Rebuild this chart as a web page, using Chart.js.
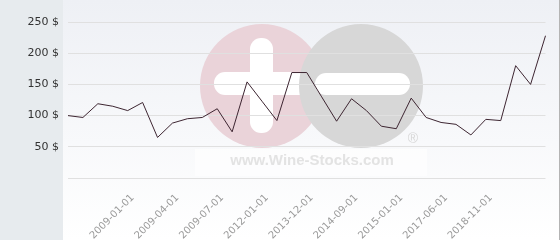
<!DOCTYPE html>
<html>
<head>
<meta charset="utf-8">
<script src="https://cdn.jsdelivr.net/npm/chart.js@4/dist/chart.umd.min.js"></script>
<style>
	html, body { margin: 0; padding: 0; background: #ffffff; }
	#wrap { width: 560px; height: 240px; position: relative; }
</style>
</head>
<body>
<div id="wrap"><canvas id="priceChart"></canvas></div>
<script>
const DATES = [
	'2008-09-01', '2008-10-01', '2008-11-01', '2008-12-01', '2009-01-01', '2009-02-01',
	'2009-03-01', '2009-04-01', '2009-05-01', '2009-06-01', '2009-07-01', '2010-06-01',
	'2011-03-01', '2012-01-01', '2012-09-01', '2013-05-01', '2013-12-01', '2014-03-01',
	'2014-06-01', '2014-09-01', '2014-11-01', '2014-12-01', '2015-01-01', '2016-01-01',
	'2016-10-01', '2017-06-01', '2017-12-01', '2018-05-01', '2018-11-01', '2019-06-01',
	'2020-03-01', '2021-01-01', '2021-10-01'
];
const PRICES = [
	100, 97, 119, 115, 108, 121, 65, 88, 95, 97, 111, 74,
	154, 123, 92, 169, 169, 130, 91, 127, 108, 83, 79, 128,
	97, 89, 86, 69, 94, 92, 180, 150, 228
];
// only these dates get a label on the x axis
const SHOWN_DATES = [
	'2009-01-01', '2009-04-01', '2009-07-01', '2012-01-01', '2013-12-01',
	'2014-09-01', '2015-01-01', '2017-06-01', '2018-11-01'
];
const Y_TICKS = [0, 50, 100, 150, 200, 250];


const backgroundPlugin = {
	id: 'panelAndWatermark',
	beforeDraw: (chart) => {
		const { ctx, width, height } = chart;
		ctx.save();
		// left label panel
		ctx.fillStyle = '#e7ebee';
		ctx.fillRect(0, 0, 63, height);
		// plot background
		let grad = ctx.createLinearGradient(0, 0, 0, height);
		grad.addColorStop(0, '#eef0f5');
		grad.addColorStop(1, '#ffffff');
		ctx.fillStyle = grad;
		ctx.fillRect(63, 0, 496, height);
		ctx.fillStyle = '#b4b4b4';
		ctx.fillRect(559, 0, 1, height);

		// watermark logo
		ctx.fillStyle = '#ead3d9';
		ctx.beginPath();
		ctx.arc(262, 86, 62, 0, Math.PI * 2);
		ctx.fill();
		ctx.fillStyle = '#ffffff';
		roundRect(ctx, 250, 38, 23, 95, 11);
		roundRect(ctx, 214, 72, 100, 23, 11);
		ctx.fillStyle = '#d7d7d7';
		ctx.beginPath();
		ctx.arc(361, 86, 62, 0, Math.PI * 2);
		ctx.fill();
		ctx.fillStyle = '#ffffff';
		roundRect(ctx, 315, 73, 95, 22, 11);

		ctx.fillStyle = 'rgba(255,255,255,0.6)';
		ctx.fillRect(195, 149, 232, 27);
		ctx.fillStyle = '#e3e3e3';
		ctx.font = 'bold 15px "Liberation Sans", Arial, sans-serif';
		ctx.textAlign = 'center';
		ctx.textBaseline = 'middle';
		ctx.fillText('www.Wine-Stocks.com', 312, 161);
		ctx.font = '14px "Liberation Sans", Arial, sans-serif';
		ctx.fillStyle = '#d7d7d7';
		ctx.fillText('\u00ae', 413, 139);
		ctx.restore();
	},
};

function roundRect(ctx, x, y, w, h, r) {
	ctx.beginPath();
	ctx.roundRect(x, y, w, h, r);
	ctx.fill();
}


let chartOptions = {
	responsive: false,
	animation: false,
	layout: {
		padding: { top: 22, right: 5, left: 0, bottom: 0 },
	},
	scales: {
		x: {
			grid: { display: false },
			border: { display: false },
			ticks: {
				autoSkip: false,
				minRotation: 45,
				maxRotation: 45,
				padding: 6,
				labelOffset: 5,
				color: '#9a9a9a',
				font: { family: 'DejaVu Sans', size: 10 },
				callback: function(value, index) {
					let d = this.getLabelForValue(value);
					return SHOWN_DATES.includes(d) ? d : '';
				},
			},
			afterFit: (scale) => { scale.height = 62; },
		},
		y: {
			min: 0,
			max: 250,
			grid: {
				color: '#e0e0e0',
				drawTicks: false,
			},
			border: { display: false },
			afterBuildTicks: (scale) => {
				scale.ticks = Y_TICKS.map(v => ({ value: v }));
			},
			ticks: {
				padding: 9,
				color: '#333333',
				font: { family: 'DejaVu Sans', size: 11 },
				callback: (value) => value === 0 ? '' : value + ' $',
			},
			afterFit: (scale) => { scale.width = 68; },
		},
	},
	plugins: {
		legend: { display: false },
		tooltip: { enabled: false },
	},
	elements: {
		point: { radius: 0 },
		line: { tension: 0 },
	},
};

const canvas = document.getElementById('priceChart');
canvas.width = 560;
canvas.height = 240;
let priceChart = new Chart(canvas, {
	type: 'line',
	data: {
		labels: DATES,
		datasets: [
			{
				label: 'Price',
				data: PRICES,
				borderWidth: 1,
				borderColor: '#3d2531',
				fill: false,
			},
		],
	},
	options: chartOptions,
	plugins: [backgroundPlugin],
});
</script>
</body>
</html>
